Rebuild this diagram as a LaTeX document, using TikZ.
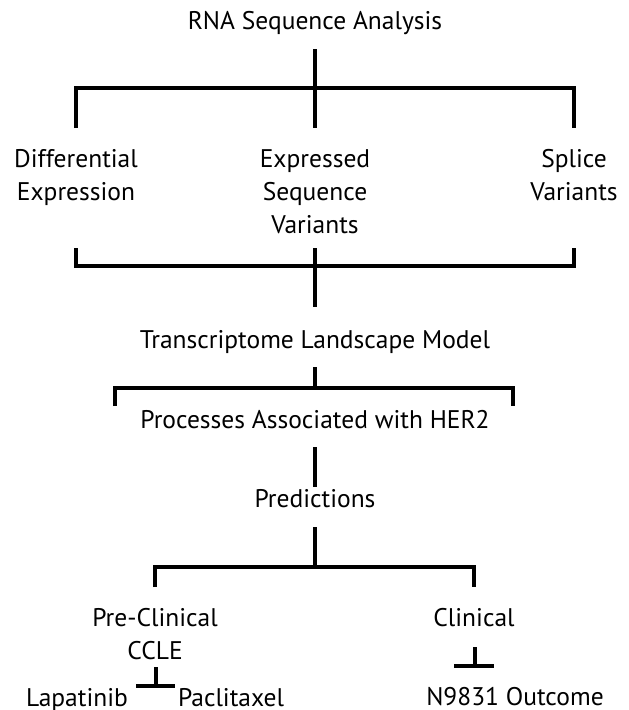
\documentclass[tikz,border=0pt]{standalone}
\usepackage{fontspec}
\setmainfont{PT Sans}
\begin{document}
\begin{tikzpicture}[x=1pt,y=-1pt,
  lbl/.style={inner sep=0pt, anchor=base, align=center, font=\fontsize{25.5}{33}\selectfont},
  br/.style={line width=3.6pt, line cap=butt, line join=miter}]
\useasboundingbox (0,0) rectangle (629,710);
% texts (base anchor = baseline of the last line)
\node[lbl] (rna) at (315,29) {RNA Sequence Analysis};
\node[lbl] (diff) at (76,200) {Differential\\Expression};
\node[lbl] (esv) at (315,233) {Expressed\\Sequence\\Variants};
\node[lbl] (spl) at (574,200) {Splice\\Variants};
\node[lbl] (tlm) at (315,348) {Transcriptome Landscape Model};
\node[lbl] (proc) at (315,428) {Processes Associated with HER2};
\node[lbl] (pred) at (315,507) {Predictions};
\node[lbl] (pre) at (155,659) {Pre-Clinical\\CCLE};
\node[lbl] (clin) at (474,626) {Clinical};
\node[lbl] (lap) at (77,706) {Lapatinib};
\node[lbl] (pac) at (231,706) {Paclitaxel};
\node[lbl] (out) at (515,705) {N9831 Outcome};
% bracket 1
\coordinate (b1t) at (315,49);
\coordinate (b1m) at (315,88);
\coordinate (b1l) at (76,88);
\coordinate (b1r) at (574,88);
\coordinate (b1lb) at (76,128);
\coordinate (b1mb) at (315,128);
\coordinate (b1rb) at (574,128);
\draw[br] (b1t) -- (b1m) -- (b1mb);
\draw[br] (b1lb) -- (b1l) -- (b1r) -- (b1rb);
% bracket 2
\coordinate (b2lt) at (76,248);
\coordinate (b2l) at (76,266);
\coordinate (b2r) at (574,266);
\coordinate (b2rt) at (574,248);
\coordinate (b2mt) at (315,248);
\coordinate (b2mb) at (315,307);
\draw[br] (b2lt) -- (b2l) -- (b2r) -- (b2rt);
\draw[br] (b2mt) -- (b2mb);
% bracket 3
\coordinate (b3t) at (315,367);
\coordinate (b3m) at (315,388);
\coordinate (b3l) at (115,388);
\coordinate (b3r) at (513,388);
\coordinate (b3lb) at (115,406);
\coordinate (b3rb) at (513,406);
\draw[br] (b3t) -- (b3m);
\draw[br] (b3lb) -- (b3l) -- (b3r) -- (b3rb);
% line to predictions
\coordinate (v4t) at (315,447);
\coordinate (v4b) at (315,487);
\draw[br] (v4t) -- (v4b);
% bracket 5
\coordinate (b5t) at (315,527);
\coordinate (b5m) at (315,567);
\coordinate (b5l) at (155,567);
\coordinate (b5r) at (474,567);
\coordinate (b5lb) at (155,587);
\coordinate (b5rb) at (474,587);
\draw[br] (b5t) -- (b5m);
\draw[br] (b5lb) -- (b5l) -- (b5r) -- (b5rb);
% T bars
\coordinate (t1t) at (156,667);
\coordinate (t1b) at (156,686);
\coordinate (t1l) at (136,686);
\coordinate (t1r) at (175,686);
\draw[br] (t1t) -- (t1b);
\draw[br] (t1l) -- (t1r);
\coordinate (t2t) at (475,647);
\coordinate (t2b) at (475,666);
\coordinate (t2l) at (454,666);
\coordinate (t2r) at (494,666);
\draw[br] (t2t) -- (t2b);
\draw[br] (t2l) -- (t2r);
\end{tikzpicture}
\end{document}
